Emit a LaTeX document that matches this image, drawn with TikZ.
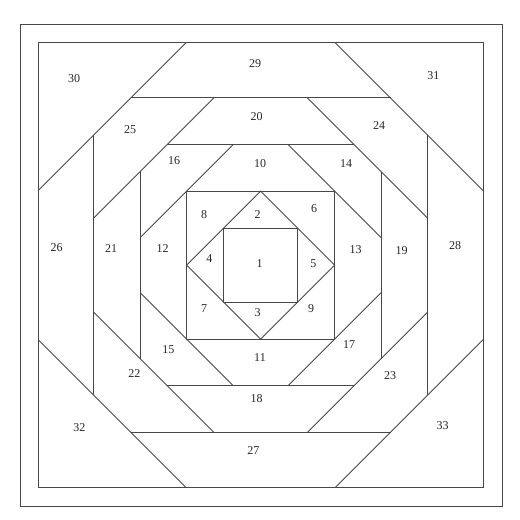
\documentclass[tikz,border=0pt]{standalone}
\usepackage{fontspec}
\setmainfont{Liberation Serif}
\begin{document}
\begin{tikzpicture}[x=1pt,y=-1pt,
  seam/.style={draw=black!72,line width=0.9pt,line join=miter},
  num/.style={font=\fontsize{12}{14}\selectfont,text=black!85,inner sep=0pt}]
\useasboundingbox (0,0) rectangle (520,520);
% outer frame
\draw[seam] (20,24) rectangle (502,506);
\begin{scope}[shift={(260.7,265.1)}]
  % ring sizes
  \def\sA{37}\def\sB{74}\def\sC{120.4}\def\sD{167.2}\def\sE{222.4}
  \def\dC{148}\def\dD{214}\def\dE{297}
  \draw[seam] (-\sE,-\sE) rectangle (\sE,\sE);
  \draw[seam] (-\sB,-\sB) rectangle (\sB,\sB);
  \draw[seam] (-\sA,-\sA) rectangle (\sA,\sA);
  \draw[seam] (-\sB,0) -- (0,-\sB) -- (\sB,0) -- (0,\sB) -- cycle;
  \foreach \a in {0,90,180,270}{
    \begin{scope}[rotate=\a]
      % outer diagonal
      \draw[seam] (-\sE,{-(\dE-\sE)}) -- ({-(\dE-\sE)},-\sE);
      % third square edge
      \draw[seam] ({-(\dE-\sD)},-\sD) -- ({\dE-\sD},-\sD);
      % middle diagonal
      \draw[seam] (-\sD,{-(\dD-\sD)}) -- ({-(\dD-\sD)},-\sD);
      % second square edge
      \draw[seam] ({-(\dD-\sC)},-\sC) -- ({\dD-\sC},-\sC);
      % inner diagonal
      \draw[seam] (-\sC,{-(\dC-\sC)}) -- ({-(\dC-\sC)},-\sC);
    \end{scope}
  }
\end{scope}
% labels
\node[num] (n1) at (259.5,263.5) {1};
\node[num] (n2) at (257.7,214.3) {2};
\node[num] (n3) at (257.7,312.7) {3};
\node[num] (n4) at (209.3,259) {4};
\node[num] (n5) at (313.3,263.3) {5};
\node[num] (n6) at (314,208.3) {6};
\node[num] (n7) at (204,308.7) {7};
\node[num] (n8) at (204,214.3) {8};
\node[num] (n9) at (311,308.3) {9};
\node[num] (n10) at (260,163.3) {10};
\node[num] (n11) at (260,357.3) {11};
\node[num] (n12) at (162.7,248.5) {12};
\node[num] (n13) at (355.7,249.3) {13};
\node[num] (n14) at (346,163.3) {14};
\node[num] (n15) at (168.3,350) {15};
\node[num] (n16) at (174,160.7) {16};
\node[num] (n17) at (349,345) {17};
\node[num] (n18) at (256.7,399) {18};
\node[num] (n19) at (401.7,250.7) {19};
\node[num] (n20) at (256.7,116.7) {20};
\node[num] (n21) at (111,248.3) {21};
\node[num] (n22) at (134.3,373.3) {22};
\node[num] (n23) at (390,376) {23};
\node[num] (n24) at (379,125.3) {24};
\node[num] (n25) at (130,129.3) {25};
\node[num] (n26) at (56.7,247.3) {26};
\node[num] (n27) at (253.3,450.7) {27};
\node[num] (n28) at (455,246) {28};
\node[num] (n29) at (255,63.3) {29};
\node[num] (n30) at (74,79) {30};
\node[num] (n31) at (433.3,76) {31};
\node[num] (n32) at (79.3,427.3) {32};
\node[num] (n33) at (442.7,426) {33};
\end{tikzpicture}
\end{document}
